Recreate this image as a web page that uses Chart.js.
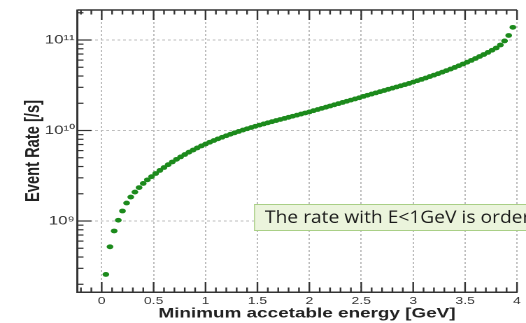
<!DOCTYPE html>
<html>
<head>
<meta charset="utf-8">
<script src="https://cdn.jsdelivr.net/npm/chart.js@4.4.1/dist/chart.umd.min.js"></script>
<style>
  html, body { margin: 0; padding: 0; background: #ffffff; overflow: hidden; }
  #wrap { width: 376px; height: 323px; transform: scaleX(1.398936); transform-origin: 0 0; }
</style>
</head>
<body>
<div id="wrap"><canvas id="c" width="376" height="323"></canvas></div>
<script>
// ---- data ----
const energies = [
  0.04, 0.08, 0.12, 0.16, 0.20, 0.24, 0.28, 0.32, 0.36, 0.40,
  0.44, 0.48, 0.52, 0.56, 0.60, 0.64, 0.68, 0.72, 0.76, 0.80,
  0.84, 0.88, 0.92, 0.96, 1.00, 1.04, 1.08, 1.12, 1.16, 1.20,
  1.24, 1.28, 1.32, 1.36, 1.40, 1.44, 1.48, 1.52, 1.56, 1.60,
  1.64, 1.68, 1.72, 1.76, 1.80, 1.84, 1.88, 1.92, 1.96, 2.00,
  2.04, 2.08, 2.12, 2.16, 2.20, 2.24, 2.28, 2.32, 2.36, 2.40,
  2.44, 2.48, 2.52, 2.56, 2.60, 2.64, 2.68, 2.72, 2.76, 2.80,
  2.84, 2.88, 2.92, 2.96, 3.00, 3.04, 3.08, 3.12, 3.16, 3.20,
  3.24, 3.28, 3.32, 3.36, 3.40, 3.44, 3.48, 3.52, 3.56, 3.60,
  3.64, 3.68, 3.72, 3.76, 3.80, 3.84, 3.88, 3.92, 3.96
];
const eventRates = [
  2.57e8, 5.19e8, 7.76e8, 1.02e9, 1.29e9, 1.58e9, 1.84e9, 2.09e9, 2.34e9, 2.60e9,
  2.85e9, 3.09e9, 3.35e9, 3.62e9, 3.90e9, 4.19e9, 4.49e9, 4.80e9, 5.11e9, 5.43e9,
  5.76e9, 6.08e9, 6.42e9, 6.75e9, 7.08e9, 7.42e9, 7.75e9, 8.09e9, 8.42e9, 8.76e9,
  9.10e9, 9.43e9, 9.77e9, 1.011e10, 1.045e10, 1.079e10, 1.113e10, 1.148e10, 1.182e10, 1.217e10,
  1.252e10, 1.288e10, 1.324e10, 1.361e10, 1.399e10, 1.438e10, 1.478e10, 1.520e10, 1.562e10, 1.606e10,
  1.656e10, 1.706e10, 1.758e10, 1.811e10, 1.866e10, 1.923e10, 1.982e10, 2.042e10, 2.104e10, 2.168e10,
  2.234e10, 2.301e10, 2.382e10, 2.455e10, 2.529e10, 2.606e10, 2.685e10, 2.767e10, 2.851e10, 2.938e10,
  3.027e10, 3.119e10, 3.214e10, 3.311e10, 3.428e10, 3.548e10, 3.673e10, 3.802e10, 3.945e10, 4.093e10,
  4.246e10, 4.416e10, 4.592e10, 4.775e10, 4.977e10, 5.200e10, 5.433e10, 5.689e10, 5.957e10, 6.252e10,
  6.577e10, 6.918e10, 7.295e10, 7.709e10, 8.166e10, 8.810e10, 9.772e10, 1.122e11, 1.380e11
];
const xTickValues = [0, 0.5, 1, 1.5, 2, 2.5, 3, 3.5, 4];
const xTickLabels = ['0', '0.5', '1', '1.5', '2', '2.5', '3', '3.5', '4'];
const yTickValues = [1e9, 1e10, 1e11];
const yTickLabels = ['10\u2079', '10\u00B9\u2070', '10\u00B9\u00B9'];
const xMin = -0.233, xMax = 4.0;
const yMin = 1.643e8, yMax = 2.146e11;
const xTitle = 'Minimum accetable energy [GeV]';
const yTitle = 'Event Rate [/s]';
const noteText = 'The rate with E<1GeV is order';

// ---- rendering ----
const S = 526 / 376;               // horizontal stretch of the reference image
const FONT = '"Liberation Sans", Arial, Helvetica, sans-serif';
const GREEN = '#1c8a1c';

const points = energies.map((e, i) => ({ x: e, y: eventRates[i] }));

const framePlugin = {
  id: 'frame',
  afterDraw(chart) {
    const { ctx, chartArea: a, scales: { x, y } } = chart;
    const line = (x1, y1, x2, y2) => { ctx.beginPath(); ctx.moveTo(x1, y1); ctx.lineTo(x2, y2); ctx.stroke(); };
    ctx.save();
    ctx.strokeStyle = '#333333';
    ctx.lineWidth = 1.5;
    line(a.left, a.top, a.right, a.top);
    ctx.lineWidth = 1.2;
    // x ticks (bottom and top, inside the frame)
    for (let k = Math.ceil(x.min * 10 - 1e-9); k <= Math.floor(x.max * 10 + 1e-9); k++) {
      const px = x.getPixelForValue(k / 10);
      const len = (k % 5 === 0) ? 10 : 4.5;
      line(px, a.bottom, px, a.bottom - len);
      line(px, a.top, px, a.top + len);
    }
    // y ticks (left, inside)
    const e0 = Math.floor(Math.log10(y.min)), e1 = Math.ceil(Math.log10(y.max));
    for (let e = e0; e <= e1; e++) {
      for (let m = 1; m <= 9; m++) {
        const v = m * Math.pow(10, e);
        if (v < y.min || v > y.max) continue;
        const py = y.getPixelForValue(v);
        line(a.left, py, a.left + (m === 1 ? 10 : 4.3), py);
      }
    }
    // x-axis title
    ctx.fillStyle = '#222222';
    ctx.font = 'bold 13.5px ' + FONT;
    ctx.textAlign = 'center';
    ctx.textBaseline = 'middle';
    ctx.fillText(xTitle, 307 / S, 314);
    ctx.restore();

    // slide text box (not stretched)
    ctx.save();
    ctx.scale(1 / S, 1);
    ctx.fillStyle = '#ebf4dc';
    ctx.fillRect(254, 204, 300, 27);
    ctx.strokeStyle = '#a9cf86';
    ctx.lineWidth = 1;
    ctx.strokeRect(254.5, 204.5, 300, 26);
    ctx.translate(265, 223);
    ctx.scale(1.13, 1);
    ctx.fillStyle = '#1a1a1a';
    ctx.font = '17px "Open Sans", Lato, sans-serif';
    ctx.textAlign = 'left';
    ctx.textBaseline = 'alphabetic';
    ctx.fillText(noteText, 0, 0);
    ctx.restore();
  }
};

new Chart(document.getElementById('c'), {
  type: 'scatter',
  data: {
    datasets: [{
      data: points,
      backgroundColor: GREEN,
      borderColor: GREEN,
      borderWidth: 0,
      pointRadius: 2.4,
      pointHoverRadius: 2.4,
      showLine: false
    }]
  },
  options: {
    responsive: false,
    animation: false,
    devicePixelRatio: 2,
    layout: { padding: { top: 10, right: 376 - 517 / S, left: 0, bottom: 0 } },
    plugins: { legend: { display: false }, tooltip: { enabled: false } },
    scales: {
      x: {
        type: 'linear',
        min: xMin,
        max: xMax,
        afterBuildTicks: s => { s.ticks = xTickValues.map(v => ({ value: v })); },
        afterFit: s => { s.height = 31; },
        ticks: {
          autoSkip: false, maxRotation: 0, padding: 3,
          color: '#333333',
          font: { family: FONT, size: 10 },
          callback: (v, i) => xTickLabels[i]
        },
        grid: { color: '#bdbdbd', lineWidth: 1, drawTicks: false },
        border: { display: true, color: '#333333', width: 1.5, dash: [2, 2] },
        title: { display: false }
      },
      y: {
        type: 'logarithmic',
        min: yMin,
        max: yMax,
        afterBuildTicks: s => { s.ticks = yTickValues.map(v => ({ value: v, major: true })); },
        afterFit: s => { s.width = 77.5 / S; },
        ticks: {
          autoSkip: false, padding: 2,
          color: '#333333',
          font: { family: FONT, size: 12 },
          callback: (v, i) => yTickLabels[i]
        },
        grid: { color: '#bdbdbd', lineWidth: 1, drawTicks: false },
        border: { display: true, color: '#333333', width: 1.5, dash: [2, 2] },
        title: {
          display: true, text: yTitle, color: '#222222',
          font: { family: FONT, size: 14.7, weight: 'bold' },
          padding: { top: 15, bottom: 0 }
        }
      }
    }
  },
  plugins: [framePlugin]
});
</script>
</body>
</html>
